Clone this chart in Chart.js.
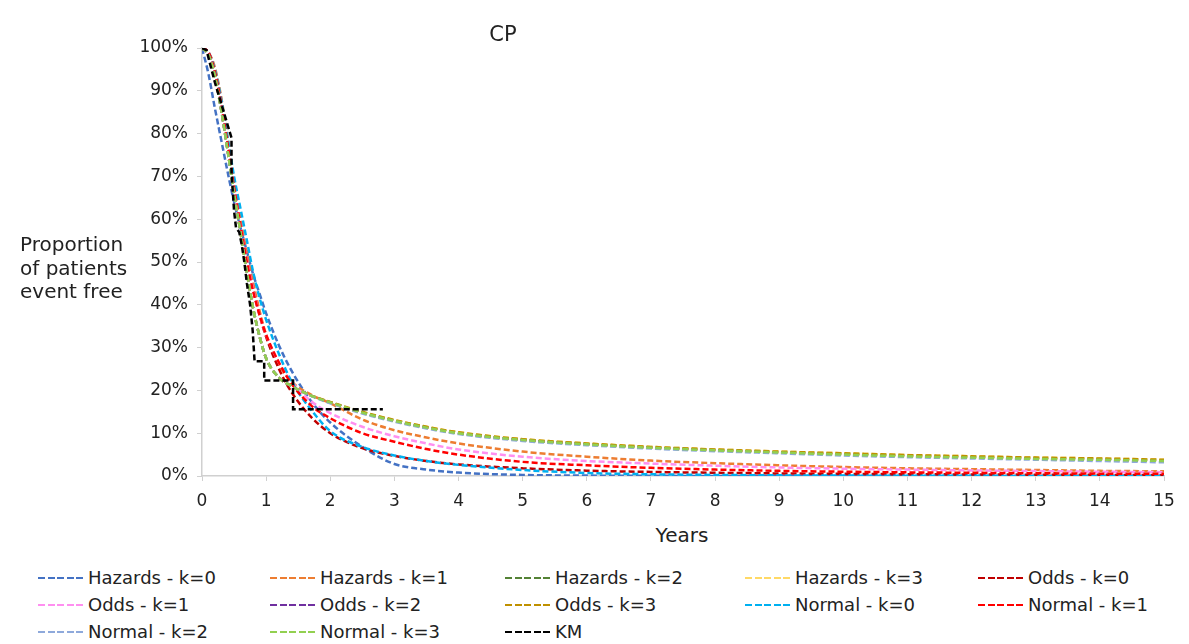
<!DOCTYPE html>
<html>
<head>
<meta charset="utf-8">
<script src="https://cdn.jsdelivr.net/npm/chart.js@4.4.1/dist/chart.umd.min.js"></script>
<style>
  html, body { margin: 0; padding: 0; background: #fff; }
  body { width: 1189px; height: 644px; position: relative; overflow: hidden;
         font-family: "DejaVu Sans", Verdana, sans-serif; color: #222; }
  #chart { position: absolute; left: 0; top: 0; }
  .title { position: absolute; left: 453px; width: 100px; top: 22px; text-align: center;
           font-size: 21px; line-height: 24px; }
  .xtitle { position: absolute; left: 632px; width: 100px; top: 523px; text-align: center;
            font-size: 20px; line-height: 24px; }
  .ytitle { position: absolute; left: 20px; top: 233px; font-size: 20px; line-height: 23.5px; }
  .legend-item { position: absolute; height: 27px; line-height: 27px; font-size: 18px; white-space: nowrap; }
  .legend-item .swatch { display: inline-block; width: 48px; height: 2.5px; vertical-align: middle;
                         margin-right: 2px; position: relative; top: -1px; }
</style>
</head>
<body>
<canvas id="chart" width="1189" height="520"></canvas>
<div class="title">CP</div>
<div class="ytitle">Proportion<br>of patients<br>event free</div>
<div class="xtitle">Years</div>
<div id="legend"></div>

<script>
// time grid (years) shared by the fitted curves
const years = [0, 0.1, 0.2, 0.3, 0.4, 0.5, 0.6, 0.7, 0.8, 0.9, 1.0, 1.2, 1.4, 1.7, 2.0, 2.5,
               3, 3.5, 4, 5, 6, 7, 8, 9, 10, 11, 12, 13, 14, 15];

// proportion event free (%) for each model
const hazardsK0 = [100, 94, 86, 78.5, 71, 64, 58, 52.5, 47, 42.5, 38, 30.5, 24.5, 17.5, 12.5, 6.8,
                   2.8, 1.5, 0.8, 0.25, 0.1, 0.05, 0, 0, 0, 0, 0, 0, 0, 0];
const hazardsK1 = [100, 99, 95.5, 88.5, 79, 69, 60, 52, 45, 38.5, 33, 26, 22, 19, 17, 13.2,
                   10.7, 9, 7.6, 5.7, 4.5, 3.6, 3.0, 2.5, 2.1, 1.8, 1.6, 1.4, 1.2, 1.1];
const hazardsK2 = [100, 98.5, 93.5, 85.5, 76, 66, 57, 47.5, 39, 32.5, 27.5, 23, 21, 18.8, 17.2, 14.8,
                   12.9, 11.3, 10, 8.4, 7.4, 6.6, 6.0, 5.5, 5.1, 4.7, 4.4, 4.1, 3.9, 3.6];
const hazardsK3 = [100, 98.5, 93.5, 85.5, 76, 66, 57, 47.5, 39, 32.5, 27.5, 23, 21, 18.8, 17.2, 14.9,
                   13.0, 11.5, 10.2, 8.6, 7.6, 6.8, 6.2, 5.7, 5.3, 4.9, 4.6, 4.3, 4.1, 3.8];
const oddsK0 = [100, 99, 94.5, 87, 77.5, 67.5, 58.5, 50.5, 43.5, 37.5, 32.5, 25, 19.5, 13.8, 10, 6.5,
                4.7, 3.5, 2.7, 1.8, 1.25, 0.95, 0.75, 0.6, 0.5, 0.42, 0.36, 0.31, 0.27, 0.24];
const oddsK1 = [100, 99, 94.5, 87, 77.5, 67.5, 58.5, 50.5, 43.5, 37.5, 33, 26.5, 22, 17.5, 14.7, 11.5,
                9.3, 7.6, 6.2, 4.5, 3.5, 2.9, 2.4, 2.0, 1.7, 1.5, 1.3, 1.15, 1.0, 0.9];
const oddsK2 = [100, 98.5, 93.5, 85.5, 76, 66, 57, 47.5, 39, 32.5, 27.5, 23, 21, 18.8, 17.2, 14.8,
                12.9, 11.3, 10, 8.4, 7.4, 6.6, 6.0, 5.5, 5.0, 4.6, 4.3, 4.0, 3.8, 3.5];
const oddsK3 = [100, 98.5, 93.5, 85.5, 76, 66, 57, 47.5, 39, 32.5, 27.5, 23, 21, 18.8, 17.3, 15.0,
                13.1, 11.5, 10.2, 8.6, 7.6, 6.8, 6.2, 5.7, 5.3, 4.9, 4.6, 4.3, 4.1, 3.8];
const normalK0 = [100, 99, 95, 88, 79, 70, 62.5, 55, 47.5, 41.5, 36.5, 28.5, 22, 15.5, 10.5, 6.8,
                  4.8, 3.5, 2.6, 1.4, 0.7, 0.4, 0.25, 0.15, 0.1, 0.05, 0.05, 0, 0, 0];
const normalK1 = [100, 99, 94.5, 87, 77.5, 67.5, 58.5, 50, 43, 37.5, 33, 26.5, 21.5, 16.5, 13.5, 10,
                  8, 6.3, 5, 3.3, 2.5, 1.9, 1.5, 1.2, 1.0, 0.85, 0.75, 0.65, 0.55, 0.5];
const normalK2 = [100, 98.5, 93.5, 85.5, 76, 66, 57, 47.5, 39, 32.5, 27.5, 23, 21, 18.7, 17.0, 14.6,
                  12.7, 11.1, 9.8, 8.2, 7.2, 6.4, 5.8, 5.3, 4.8, 4.4, 4.1, 3.8, 3.5, 3.2];
const normalK3 = [100, 98.5, 93.5, 85.5, 76, 66, 57, 47.5, 39, 32.5, 27.5, 23, 21, 18.8, 17.2, 14.8,
                  12.9, 11.3, 10, 8.4, 7.4, 6.6, 6.0, 5.5, 5.0, 4.6, 4.3, 4.0, 3.8, 3.5];

// Kaplan-Meier step curve
const kmYears  = [0, 0.07, 0.2, 0.3, 0.38, 0.46, 0.46, 0.5, 0.53, 0.58, 0.62, 0.66, 0.7, 0.75, 0.79,
                  0.82, 0.97, 0.97, 1.42, 1.42, 2.82];
const kmValues = [100, 99.5, 92, 87, 83, 79, 71, 62, 58, 57, 54, 50, 45, 40, 34,
                  26.8, 26.8, 22.3, 22.3, 15.6, 15.6];

const series = [
  ['Hazards - k=0', hazardsK0, '#4472C4'],
  ['Hazards - k=1', hazardsK1, '#ED7D31'],
  ['Hazards - k=2', hazardsK2, '#548235'],
  ['Hazards - k=3', hazardsK3, '#FFD966'],
  ['Odds - k=0', oddsK0, '#C00000'],
  ['Odds - k=1', oddsK1, '#FF8FF0'],
  ['Odds - k=2', oddsK2, '#7030A0'],
  ['Odds - k=3', oddsK3, '#BF9000'],
  ['Normal - k=0', normalK0, '#00B0F0'],
  ['Normal - k=1', normalK1, '#FF0000'],
  ['Normal - k=2', normalK2, '#8EA9DB'],
  ['Normal - k=3', normalK3, '#92D050'],
];

const datasets = series.map(([label, vals, color]) => ({
  label,
  data: years.map((x, i) => ({ x, y: vals[i] })),
  borderColor: color,
  cubicInterpolationMode: 'monotone'
}));
datasets.push({
  label: 'KM',
  data: kmYears.map((x, i) => ({ x, y: kmValues[i] })),
  borderColor: '#000000',
  tension: 0
});
// excel draws the last series on top
datasets.forEach((d, i) => {
  d.order = datasets.length - i;
  d.borderWidth = 2.5;
  d.borderDash = [6, 3];
  d.pointRadius = 0;
  d.fill = false;
});

const tickFont = { family: 'DejaVu Sans', size: 17 };
const axisGray = '#d0d0d0';

new Chart(document.getElementById('chart').getContext('2d'), {
  type: 'line',
  data: { datasets },
  options: {
    responsive: false,
    animation: false,
    layout: { padding: { top: 48, right: 25, bottom: 4, left: 0 } },
    plugins: { legend: { display: false }, tooltip: { enabled: false } },
    scales: {
      x: {
        type: 'linear', min: 0, max: 15,
        ticks: { stepSize: 1, font: tickFont, color: '#222', padding: 10, maxRotation: 0 },
        grid: { drawOnChartArea: false, drawTicks: true, tickLength: 5, color: axisGray },
        border: { color: axisGray, width: 1.5 },
        afterFit: s => { s.height = 40; }
      },
      y: {
        min: 0, max: 100,
        ticks: { stepSize: 10, font: tickFont, color: '#222', padding: 9, callback: v => v + '%' },
        grid: { drawOnChartArea: false, drawTicks: true, tickLength: 5, color: axisGray },
        border: { color: axisGray, width: 1.5 },
        afterFit: s => { s.width = 202; }
      }
    }
  }
});

// legend laid out in five columns like the original
const legendCols = [38, 270, 505, 745, 978];
const legendEl = document.getElementById('legend');
datasets.forEach((d, i) => {
  const item = document.createElement('div');
  item.className = 'legend-item';
  item.style.left = legendCols[i % 5] + 'px';
  item.style.top = (564 + Math.floor(i / 5) * 27) + 'px';
  const sw = document.createElement('span');
  sw.className = 'swatch';
  sw.style.background = `repeating-linear-gradient(to right, ${d.borderColor} 0 7px, transparent 7px 9.6px)`;
  item.appendChild(sw);
  item.appendChild(document.createTextNode(d.label));
  legendEl.appendChild(item);
});
</script>
</body>
</html>
